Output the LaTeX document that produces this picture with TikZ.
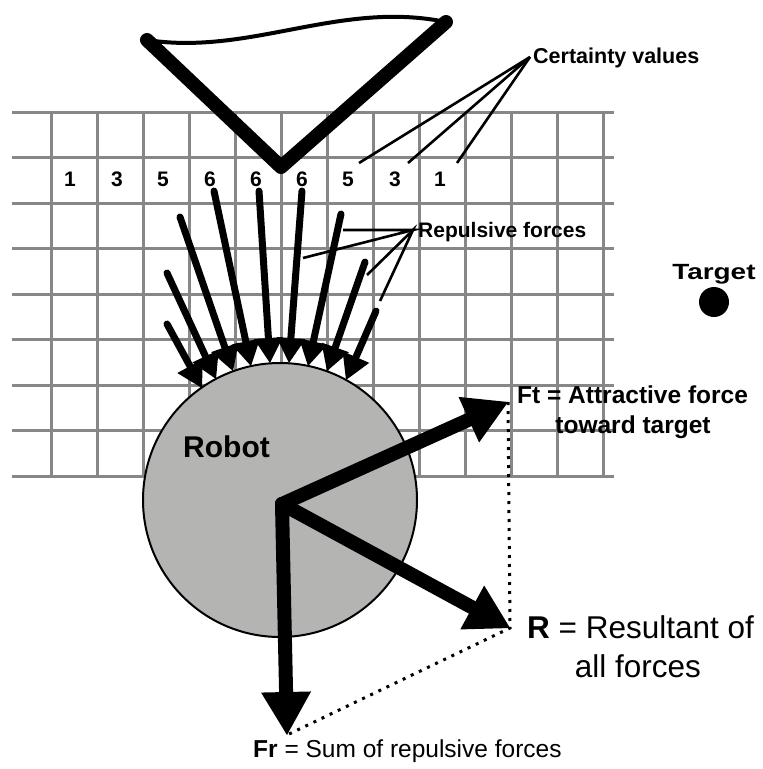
\documentclass[tikz,border=0pt]{standalone}
\usepackage{fontspec}
\setmainfont{Liberation Sans}
\usetikzlibrary{arrows.meta}
\definecolor{gridgray}{RGB}{135,135,135}
\definecolor{robotgray}{RGB}{180,181,179}
\begin{document}
\begin{tikzpicture}[x=1pt,y=-1pt,
  gridline/.style={draw=gridgray,line width=3pt},
  obst/.style={line width=14pt,line cap=round,line join=round},
  wavy/.style={line width=4pt,line cap=round},
  pointer/.style={line width=2.6pt},
  rep/.style={line width=7pt,line cap=round,-{Triangle[length=25pt,width=29pt,line width=0pt]}},
  force/.style={line width=14pt,line cap=round,-{Triangle[length=43pt,width=50pt,line width=0pt]}},
  dots/.style={line width=3pt,dash pattern=on 3pt off 6pt},
  num/.style={font=\fontsize{21}{25}\selectfont\bfseries,inner sep=0pt,anchor=base},
  blbl/.style={inner sep=0pt,anchor=base west},
]
\useasboundingbox (0,0) rectangle (763,769);

% grid
\foreach \k in {0,...,8} {
  \draw[gridline] (12,{112+45.5*\k}) -- (614,{112+45.5*\k});
}
\foreach \k in {0,...,12} {
  \draw[gridline] ({51+46*\k},112) -- ({51+46*\k},476);
}

% obstacle
\coordinate (vl) at (147,40);
\coordinate (vb) at (281,167);
\coordinate (vr) at (446,22);
\draw[obst] (vl) -- (vb) -- (vr);
\draw[wavy] (vl) .. controls (250,56) and (340,0) .. (vr);

% certainty values
\foreach \x/\v [count=\i] in {70/1,117/3,163/5,210/6,256/6,302/6,348/5,395/3,440/1} {
  \node[num] (n\i) at (\x,186) {\v};
}
\node[blbl,font=\fontsize{21.5}{25}\selectfont\bfseries] (cvlabel) at (533,63) {Certainty values};
\coordinate (cv) at (530,57);
\coordinate (c5) at (359,163);
\coordinate (c3) at (408,163);
\coordinate (c1) at (457,163);
\draw[pointer] (c5) -- (cv) -- (c3);
\draw[pointer] (cv) -- (c1);

% repulsive forces label and pointers
\node[blbl,font=\fontsize{21}{25}\selectfont\bfseries] (rflabel) at (418,237) {Repulsive forces};
\coordinate (rf) at (413,230);
\coordinate (r1) at (343,230);
\coordinate (r2) at (303,258);
\coordinate (r3) at (367,275);
\coordinate (r4) at (380,301);
\draw[pointer] (r1) -- (rf) -- (r2);
\draw[pointer] (r3) -- (rf) -- (r4);

% target
\node[blbl,font=\fontsize{22}{26}\selectfont\bfseries,xscale=1.27] (tlabel) at (672,279) {Target};
\node[circle,fill=black,minimum size=30pt,inner sep=0pt] (target) at (714,302) {};

% robot
\node[circle,draw=black,line width=2pt,fill=robotgray,minimum size=274pt,inner sep=0pt] (robot) at (280,500) {};
\node[blbl,font=\fontsize{30}{34}\selectfont\bfseries] (rlabel) at (183,457) {Robot};

% repulsive arrows
\foreach \sx/\sy/\tx/\ty [count=\i] in {
  167/324/202/388,
  167/273/216/379,
  180/217/233/371,
  214/191/251/366,
  259/191/270/363,
  302/191/289/363,
  341/214/308/366,
  365/262/327/371,
  376/311/346/380} {
  \coordinate (s\i) at (\sx,\sy);
  \coordinate (t\i) at (\tx,\ty);
  \draw[rep] (s\i) -- (t\i);
}

% force vectors
\coordinate (O) at (282,504);
\coordinate (ft) at (508,402);
\coordinate (res) at (510,628);
\coordinate (fr) at (287,735);
\draw[dots] (ft) -- (res) -- (fr);
\draw[force] (O) -- (ft);
\draw[force] (O) -- (res);
\draw[force] (O) -- (fr);

% labels
\node[blbl,font=\fontsize{24.5}{28}\selectfont\bfseries] (ftl1) at (517,403) {Ft = Attractive force};
\node[inner sep=0pt,anchor=base,font=\fontsize{24.5}{28}\selectfont\bfseries] (ftl2) at (633,433) {toward target};
\node[blbl,font=\fontsize{31.5}{36}\selectfont] (rl1) at (527,638) {\textbf{R} = Resultant of};
\node[inner sep=0pt,anchor=base,font=\fontsize{31.5}{36}\selectfont] (rl2) at (638,677) {all forces};
\node[blbl,font=\fontsize{24.5}{28}\selectfont] (frl) at (253,757) {\textbf{Fr} = Sum of repulsive forces};
\end{tikzpicture}
\end{document}
